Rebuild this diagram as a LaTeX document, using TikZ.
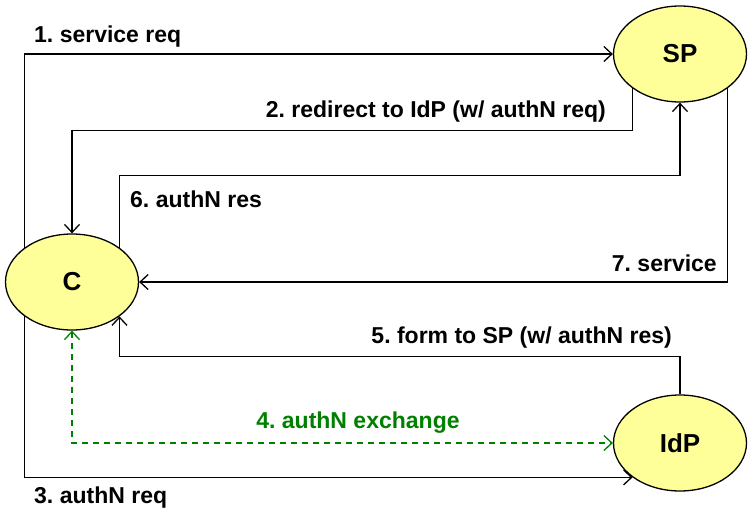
\documentclass[tikz,border=0pt]{standalone}
\usepackage{fontspec}
\setmainfont{Liberation Sans}
\usepackage{tikz}
\usetikzlibrary{positioning}
\usetikzlibrary{arrows.meta,shapes.geometric}
\usetikzlibrary{calc}

\definecolor{partyfill}{RGB}{255,255,153}
\definecolor{exgreen}{RGB}{0,128,0}

\tikzset{
  party/.style={ellipse, draw, line width=1.3pt, fill=partyfill, inner sep=0pt,
    minimum width=133pt, minimum height=96pt, font=\fontsize{26}{30}\selectfont\bfseries},
  msg/.style={line width=1.3pt, -{Straight Barb[length=8pt,width=15pt,line width=1.3pt]}},
  lbl/.style={font=\fontsize{23}{27}\selectfont\bfseries\frenchspacing, inner sep=0pt}
}

\begin{document}
\begin{tikzpicture}[x=1pt, y=-1pt]
   \useasboundingbox (0,0) rectangle (752,516);

   % the three parties
   \foreach \name/\x/\y in {SP/680/54, C/72/282, IdP/680/443}
      \node[party] (\name) at (\x,\y) {\name};

   % messages
   \draw[msg] (C.north west) |- (SP.west);
   \draw[msg] (SP.south west) -- ++(0,42) -| (C.north);
   \draw[msg] (C.south west) |- (IdP.south west);
   \draw[msg, exgreen, dash pattern=on 6pt off 5pt, {Straight Barb[length=8pt,width=15pt,line width=1.3pt]}-{Straight Barb[length=8pt,width=15pt,line width=1.3pt]}]
      (C.south) |- (IdP.west);
   \draw[msg] (IdP.north) -- ++(0,-38) -| (C.south east);
   \draw[msg] (C.north east) -- ++(0,-72) -| (SP.south);
   \draw[msg] (SP.south east) |- (C.east);

   % labels
   \node[lbl, anchor=west] (l1) at (34,37) {1. service req};
   \node[lbl, anchor=east] (l2) at (606,112) {2. redirect to IdP (w/ authN req)};
   \node[lbl, anchor=west] (l3) at (34,498) {3. authN req};
   \node[lbl, exgreen] (l4) at (358,423) {4. authN exchange};
   \node[lbl, anchor=east] (l5) at (672,338) {5. form to SP (w/ authN res)};
   \node[lbl, anchor=west] (l6) at (130,199) {6. authN res};
   \node[lbl, anchor=east] (l7) at (717,263) {7. service};
\end{tikzpicture}
\end{document}
